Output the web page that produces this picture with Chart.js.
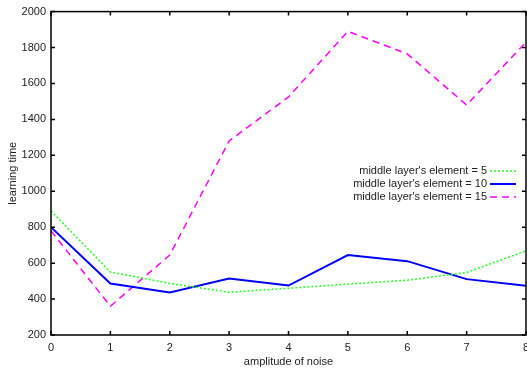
<!DOCTYPE html>
<html>
<head>
<meta charset="utf-8">
<script src="https://cdn.jsdelivr.net/npm/chart.js@4.4.1/dist/chart.umd.min.js"></script>
<style>
  html, body { margin: 0; padding: 0; background: #fff; overflow: hidden; }
  #wrap { width: 545px; height: 371px; }
</style>
</head>
<body>
<div id="wrap"><canvas id="noiseChart"></canvas></div>
<script>
const noise = [0, 1, 2, 3, 4, 5, 6, 7, 8];
const elem5 = [890, 551, 487, 438, 460, 483, 505, 548, 668];
const elem10 = [800, 487, 437, 515, 475, 645, 611, 511, 474];
const elem15 = [780, 360, 645, 1280, 1525, 1890, 1765, 1480, 1830];
const yTicks = [200, 400, 600, 800, 1000, 1200, 1400, 1600, 1800, 2000];

const FONT = 'Liberation Sans, Arial, Helvetica, sans-serif';

function pts(vals) {
    return noise.map((x, i) => ({ x: x, y: vals[i] }));
}

// gnuplot-like inward ticks on all four sides + key at the right
const frameTicks = {
    id: 'frameTicks',
    afterDraw(chart) {
        const { ctx, chartArea: a, scales } = chart;
        const len = 4;
        ctx.save();
        ctx.strokeStyle = '#000';
        ctx.lineWidth = 1.5;
        ctx.strokeRect(a.left, a.top, a.right - a.left, a.bottom - a.top);
        ctx.beginPath();
        noise.forEach(v => {
            const px = scales.x.getPixelForValue(v);
            ctx.moveTo(px, a.bottom); ctx.lineTo(px, a.bottom - len);
            ctx.moveTo(px, a.top); ctx.lineTo(px, a.top + len);
        });
        yTicks.forEach(v => {
            const py = scales.y.getPixelForValue(v);
            ctx.moveTo(a.left, py); ctx.lineTo(a.left + len, py);
            ctx.moveTo(a.right, py); ctx.lineTo(a.right - len, py);
        });
        ctx.stroke();

        // key
        const textRight = 487, lineStart = 490, lineEnd = 516;
        const rows = [171, 184, 197];
        ctx.font = '11px ' + FONT;
        ctx.textAlign = 'right';
        ctx.textBaseline = 'middle';
        chart.data.datasets.forEach((ds, i) => {
            const y = rows[i];
            ctx.fillStyle = '#222';
            ctx.fillText(ds.label, textRight, y);
            ctx.strokeStyle = ds.borderColor;
            ctx.lineWidth = ds.borderWidth;
            ctx.setLineDash(ds.borderDash || []);
            ctx.beginPath();
            ctx.moveTo(lineStart, y);
            ctx.lineTo(lineEnd, y);
            ctx.stroke();
        });
        ctx.restore();
    }
};

const ctx = document.getElementById('noiseChart').getContext('2d');
const chart = new Chart(ctx, {
    type: 'line',
    data: {
        datasets: [
            { label: "middle layer's element = 5", data: pts(elem5), borderColor: '#22ff22', borderWidth: 1.5, borderDash: [2, 2] },
            { label: "middle layer's element = 10", data: pts(elem10), borderColor: '#0000ff', borderWidth: 2 },
            { label: "middle layer's element = 15", data: pts(elem15), borderColor: '#ff00ff', borderWidth: 1.5, borderDash: [7, 5] }
        ]
    },
    options: {
        responsive: true,
        maintainAspectRatio: false,
        animation: false,
        elements: { point: { radius: 0 }, line: { tension: 0, fill: false } },
        layout: { padding: { top: 11, right: 19, left: 0, bottom: 0 } },
        plugins: { legend: { display: false }, tooltip: { enabled: false } },
        scales: {
            x: {
                type: 'linear',
                min: 0, max: 8,
                grid: { display: false, drawTicks: false, tickLength: 0 },
                border: { display: false },
                afterBuildTicks(s) { s.ticks = noise.map(v => ({ value: v })); },
                afterFit(s) { s.height = 36; },
                ticks: { color: '#222', font: { family: FONT, size: 11 }, padding: 6, maxRotation: 0, callback: v => String(v) },
                title: { display: true, text: 'amplitude of noise', color: '#222', font: { family: FONT, size: 11 }, padding: { top: 0, bottom: 2 } }
            },
            y: {
                min: 200, max: 2000,
                grid: { display: false, drawTicks: false, tickLength: 0 },
                border: { display: false },
                afterBuildTicks(s) { s.ticks = yTicks.map(v => ({ value: v })); },
                afterFit(s) { s.width = 51; },
                ticks: { color: '#222', font: { family: FONT, size: 11 }, padding: 5, callback: v => String(v) },
                title: { display: true, text: 'learning time', color: '#222', font: { family: FONT, size: 11 }, padding: { top: 6, bottom: 0 } }
            }
        }
    },
    plugins: [frameTicks]
});
</script>
</body>
</html>
